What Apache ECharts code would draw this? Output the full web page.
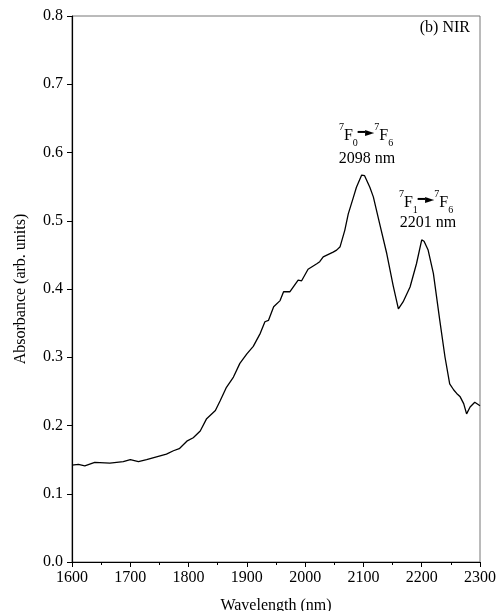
<!DOCTYPE html>
<html>
<head>
<meta charset="utf-8">
<script src="https://cdn.jsdelivr.net/npm/echarts@6/dist/echarts.min.js"></script>
<style>
  html, body { margin: 0; padding: 0; background: #fff; }
  #nir { width: 497px; height: 611px; }
</style>
</head>
<body>
<div id="nir"></div>
<script>
// wavelength (nm) and absorbance
const wavelength = [
  1600, 1611, 1622, 1639, 1665, 1688, 1700, 1714, 1728, 1745,
  1762, 1774, 1784, 1797, 1808, 1820, 1831, 1846, 1854, 1865,
  1877, 1888, 1900, 1911, 1923, 1931, 1937, 1946, 1957, 1963,
  1974, 1988, 1994, 2005, 2020, 2025, 2031, 2048, 2054, 2060,
  2068, 2074, 2083, 2088, 2097, 2102, 2105, 2111, 2117, 2128,
  2140, 2151, 2160, 2168, 2180, 2191, 2200, 2204, 2211, 2220,
  2231, 2240, 2248, 2255, 2260, 2266, 2272, 2277, 2283, 2291, 2300
];
const absorbance = [
  0.142, 0.143, 0.141, 0.146, 0.145, 0.147, 0.150, 0.147, 0.150, 0.154,
  0.158, 0.163, 0.166, 0.177, 0.182, 0.192, 0.210, 0.222, 0.236, 0.256,
  0.271, 0.291, 0.305, 0.316, 0.335, 0.352, 0.354, 0.374, 0.383, 0.396,
  0.396, 0.413, 0.412, 0.429, 0.437, 0.440, 0.447, 0.454, 0.457, 0.462,
  0.486, 0.510, 0.535, 0.549, 0.567, 0.566, 0.564, 0.549, 0.535, 0.495,
  0.452, 0.405, 0.371, 0.381, 0.403, 0.437, 0.472, 0.470, 0.457, 0.423,
  0.354, 0.300, 0.261, 0.252, 0.247, 0.242, 0.232, 0.217, 0.227, 0.234, 0.229
];
const xTicks = { min: 1600, max: 2300, step: 100 };
const yTicks = { min: 0, max: 0.8, step: 0.1 };

const font = 'Liberation Serif';
const chart = echarts.init(document.getElementById('nir'));

// rich text styles for the transition labels
const rich = {
  b: { fontFamily: font, fontSize: 16, color: '#000', lineHeight: 22, verticalAlign: 'bottom' },
  sup: { fontFamily: font, fontSize: 10, color: '#000', lineHeight: 22, verticalAlign: 'top' },
  sub: { fontFamily: font, fontSize: 10, color: '#000', lineHeight: 14, verticalAlign: 'bottom', padding: [0, 0, -4, 0] },
  arr: { fontFamily: 'DejaVu Sans', fontSize: 12, color: '#000', lineHeight: 22, verticalAlign: 'middle' }
};

function textItem(text, x, y, align) {
  return {
    type: 'text', x, y,
    style: {
      text, fill: '#000', font: '16px "' + font + '"',
      align: align || 'center', verticalAlign: 'middle', rich
    }
  };
}

chart.setOption({
  animation: false,
  backgroundColor: '#fff',
  grid: {
    left: 72, right: 17, top: 16, bottom: 49,
    outerBoundsMode: 'none', containLabel: false,
    show: true, borderColor: '#777', borderWidth: 1
  },
  xAxis: {
    type: 'value',
    min: xTicks.min, max: xTicks.max, interval: xTicks.step,
    name: 'Wavelength (nm)', nameLocation: 'middle', nameGap: 36,
    nameTextStyle: { fontFamily: font, fontSize: 16, color: '#000' },
    axisLine: { lineStyle: { color: '#000', width: 1.2 } },
    axisTick: { inside: false, length: 5, lineStyle: { color: '#000' } },
    minorTick: { show: true, splitNumber: 2, length: 3, lineStyle: { color: '#000' } },
    axisLabel: { fontFamily: font, fontSize: 16, color: '#000', margin: 8,
      formatter: v => String(v) },
    splitLine: { show: false }
  },
  yAxis: {
    type: 'value',
    min: yTicks.min, max: yTicks.max, interval: yTicks.step,
    name: 'Absorbance (arb. units)', nameLocation: 'middle', nameGap: 43,
    nameTextStyle: { fontFamily: font, fontSize: 16, color: '#000' },
    axisLine: { show: true, lineStyle: { color: '#000', width: 1.2 } },
    axisTick: { show: true, inside: false, length: 5, lineStyle: { color: '#000' } },
    axisLabel: { fontFamily: font, fontSize: 16, color: '#000', margin: 9,
      formatter: v => v.toFixed(1) },
    splitLine: { show: false }
  },
  series: [{
    type: 'line',
    data: wavelength.map((w, i) => [w, absorbance[i]]),
    showSymbol: false,
    smooth: false,
    lineStyle: { color: '#000', width: 1.3 }
  }],
  graphic: [
    textItem('(b) NIR', 470, 28, 'right'),
    textItem('{sup|7}{b|F}{sub|0}{arr|━►}{sup|7}{b|F}{sub|6}', 366, 133),
    textItem('2098 nm', 367, 159),
    textItem('{sup|7}{b|F}{sub|1}{arr|━►}{sup|7}{b|F}{sub|6}', 426, 200),
    textItem('2201 nm', 428, 223)
  ]
});
</script>
</body>
</html>
